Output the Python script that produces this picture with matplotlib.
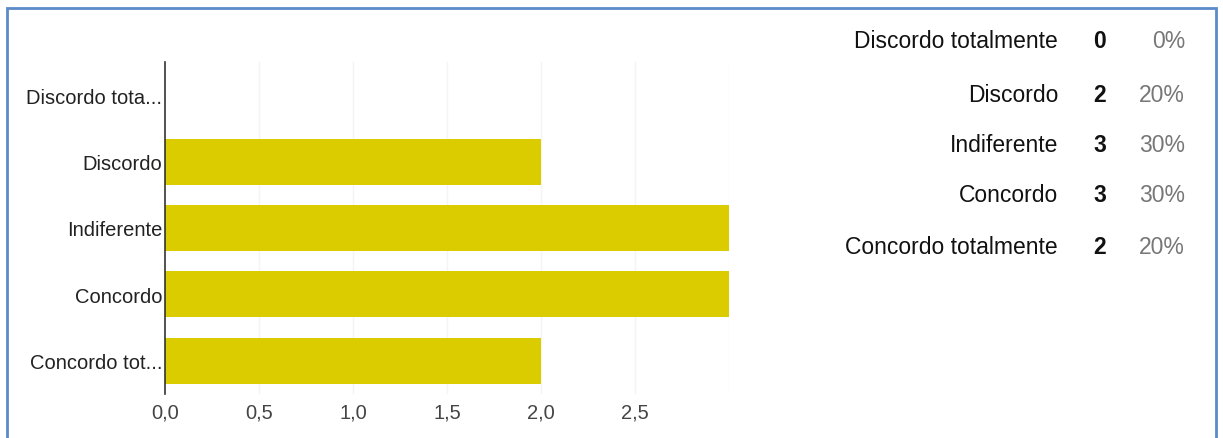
import matplotlib.pyplot as plt
from matplotlib.patches import Rectangle
from matplotlib import font_manager

# respostas
categorias = ['Discordo totalmente', 'Discordo', 'Indiferente', 'Concordo', 'Concordo totalmente']
rotulos_eixo = ['Discordo tota...', 'Discordo', 'Indiferente', 'Concordo', 'Concordo tot...']
contagens = [0, 2, 3, 3, 2]
percentuais = ['0%', '20%', '30%', '30%', '20%']
ticks_x = [0.0, 0.5, 1.0, 1.5, 2.0, 2.5]
rotulos_x = ['0,0', '0,5', '1,0', '1,5', '2,0', '2,5']

nomes = {f.name for f in font_manager.fontManager.ttflist}
fonte = 'Liberation Sans Narrow' if 'Liberation Sans Narrow' in nomes else 'Liberation Sans'
plt.rcParams['font.family'] = [fonte, 'DejaVu Sans']

W, H = 1223, 439
fig = plt.figure(figsize=(W / 100, H / 100), dpi=100)

# moldura azul
fig.patches.append(Rectangle((7 / W, -0.05), (1216 - 7) / W, 1 - 9 / H + 0.05,
                             transform=fig.transFigure, fill=False,
                             edgecolor='#5b8bc9', linewidth=2))

ax = fig.add_axes([165 / W, 1 - 395 / H, (729 - 165) / W, (395 - 63) / H])
y = range(len(categorias))
ax.barh(y, contagens, height=0.69, color='#dbcc00', zorder=2)
ax.set_xlim(0, 3)
ax.set_ylim(4.5, -0.5)
ax.set_yticks(list(y))
ax.set_yticklabels(rotulos_eixo, fontsize=14.5, color='#222222')
ax.set_xticks(ticks_x)
ax.set_xticklabels(rotulos_x, fontsize=14.5, color='#444444')
ax.tick_params(length=0, pad=2)
ax.tick_params(axis='x', pad=6)
for xv in ticks_x[1:] + [3.0]:
    ax.axvline(xv, color='#f4f4f4', linewidth=1, zorder=1)
for lado in ['top', 'right', 'bottom']:
    ax.spines[lado].set_visible(False)
ax.spines['left'].set_color('#333333')
ax.spines['left'].set_linewidth(1.2)
ax.spines['left'].set_zorder(3)

# tabela de resumo
linhas_y = [42, 95, 145, 196, 248]
for nome, n, p, yy in zip(categorias, contagens, percentuais, linhas_y):
    fy = 1 - yy / H
    fig.text(1058 / W, fy, nome, ha='right', va='center', fontsize=16.5, color='#111111')
    fig.text(1100 / W, fy, str(n), ha='center', va='center', fontsize=16.5,
             fontweight='bold', color='#111111')
    fig.text(1185 / W, fy, p, ha='right', va='center', fontsize=16.5, color='#777777')

fig.savefig('out.png', dpi=100)
